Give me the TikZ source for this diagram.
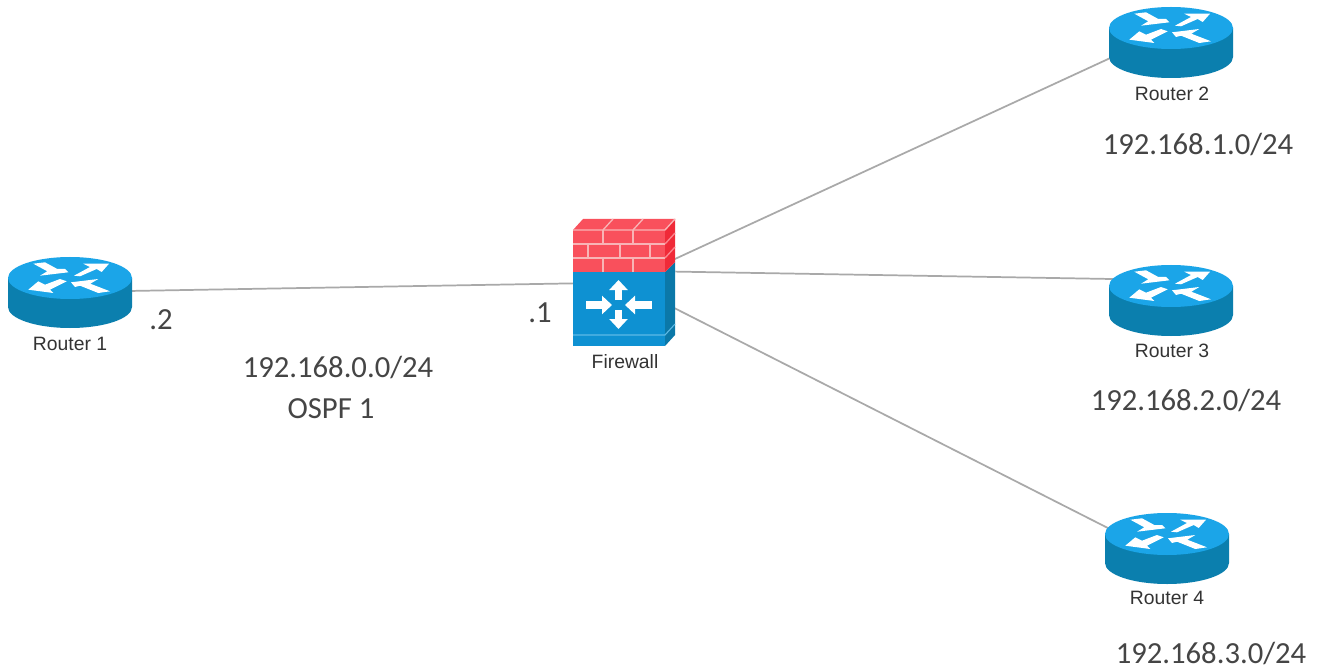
\documentclass[tikz,border=0pt]{standalone}
\usepackage{fontspec}
\setmainfont{Liberation Sans}
\newfontfamily\labfont{Carlito}
\usetikzlibrary{arrows.meta}
\definecolor{rtop}{HTML}{1BA5E8}
\definecolor{rside}{HTML}{0B7FAE}
\definecolor{fwblue}{HTML}{0E91D2}
\definecolor{fwside}{HTML}{0B78A8}
\definecolor{fwred}{HTML}{F9505C}
\definecolor{fwredside}{HTML}{F02A38}
\definecolor{fwbrick}{HTML}{F8B4B6}
\definecolor{fwband}{HTML}{5DB9E6}
\definecolor{wire}{HTML}{A9A9A9}
\definecolor{labtext}{HTML}{454545}
\tikzset{
  devbox/.style={inner sep=0pt,minimum width=93pt,minimum height=53pt},
  fwbox/.style={inner sep=0pt,minimum width=76.5pt,minimum height=95.25pt},
  wireline/.style={draw=wire,line width=1.3pt},
  devlabel/.style={font=\fontsize{14.5}{17}\selectfont,text=black!80,inner sep=0pt},
  netlabel/.style={font=\labfont\fontsize{23}{27}\selectfont,text=labtext,inner sep=0pt},
  farrow/.style={draw=white,line width=5.4pt,-{Triangle[length=7.5pt,width=13.5pt,fill=white]}},
  brick/.style={draw=fwbrick,line width=1pt}
}
\newcommand{\routerglyph}[2]{%
  \begin{scope}[shift={(#1,#2)}]
    \fill[rside] (-62,0) -- (-62,29) arc[x radius=62,y radius=21,start angle=180,end angle=0] -- (62,0) -- cycle;
    \fill[rtop] (0,0) ellipse[x radius=62,y radius=21];
    \fill[white] (4,-2.3) -- (20,-11) -- (13.3,-14.3) -- (39,-14.3) -- (31.7,-6) -- (26.7,-9) -- (10,-1.7) -- cycle;
    \fill[white] (-36.7,-14.3) -- (-25,-15.7) -- (-12.7,-9) -- (-5,-9) -- (-1.7,-5.7) -- (-30,-2.3) -- (-22.7,-6.7) -- cycle;
    \fill[white] (-41.7,11.7) -- (-31.7,3.3) -- (-25,6.7) -- (-10,1) -- (-3.3,3.3) -- (-20,11.7) -- (-16.7,15) -- cycle;
    \fill[white] (1,4.3) -- (28.3,1) -- (20.3,5.7) -- (40,13.3) -- (28.3,15) -- (10,7.7) -- (5,9) -- cycle;
  \end{scope}}
\begin{document}
\begin{tikzpicture}[x=0.75pt,y=-0.75pt]
\useasboundingbox (0,0) rectangle (1320,670);
\fill[white] (0,0) rectangle (1320,670);
% device anchors
\node[devbox] (r1) at (70,292) {};
\node[devbox] (r2) at (1171,30) {};
\node[devbox] (r3) at (1171,280) {};
\node[devbox] (r4) at (1167,548) {};
\node[fwbox] (fw) at (624,282.5) {};
\coordinate (r4in) at (1167,558);
% connectors
\draw[wireline] (r1.center) -- (fw.center);
\draw[wireline] (fw.center) -- (r2.center);
\draw[wireline] (fw.12) -- (r3.center);
\draw[wireline] (fw.center) -- (r4in);
% routers
\routerglyph{70}{278}
\routerglyph{1171}{28}
\routerglyph{1171}{286}
\routerglyph{1167}{534}
% firewall
\fill[fwblue] (573,272) rectangle (665,346);
\fill[fwside] (665,272) -- (675,262) -- (675,335) -- (665,346) -- cycle;
\draw[fwband,line width=0.8pt] (573,335) -- (665,335) -- (675,324);
\fill[fwred] (573,230) rectangle (665,272);
\fill[fwred] (573,230) -- (583,219) -- (675,219) -- (665,230) -- cycle;
\fill[fwredside] (665,230) -- (675,219) -- (675,262) -- (665,272) -- cycle;
\draw[brick] (573,230) -- (665,230) -- (675,219);
\draw[brick] (573,244) -- (665,244) (573,258) -- (665,258);
\draw[brick] (603,230) -- (603,244) (633,230) -- (633,244);
\draw[brick] (588,244) -- (588,258) (620,244) -- (620,258) (650,244) -- (650,258);
\draw[brick] (603,258) -- (603,272) (633,258) -- (633,272);
\draw[brick] (603,230) -- (613,219) (633,230) -- (643,219);
\draw[brick,draw=fwred!70!white] (665,244) -- (675,233) (665,258) -- (675,247);
\draw[farrow] (618.5,300) -- (618.5,280);
\draw[farrow] (618.5,310) -- (618.5,329);
\draw[farrow] (586,305) -- (612,305);
\draw[farrow] (652,305) -- (625,305);
% device labels
\node[devlabel] (lr1) at (70,344) {Router 1};
\node[devlabel] (lr2) at (1172,94) {Router 2};
\node[devlabel] (lr3) at (1172,351) {Router 3};
\node[devlabel] (lr4) at (1167,598) {Router 4};
\node[devlabel] (lfw) at (625,362) {Firewall};
% network labels
\node[netlabel] (n1) at (1198,145) {192.168.1.0/24};
\node[netlabel] (n2) at (1186,401) {192.168.2.0/24};
\node[netlabel] (n3) at (1211,653) {192.168.3.0/24};
\node[netlabel] (n0) at (338,368) {192.168.0.0/24};
\node[netlabel] (os) at (331,409) {OSPF 1};
\node[netlabel] (d2) at (161,320) {.2};
\node[netlabel] (d1) at (540,313) {.1};
\end{tikzpicture}
\end{document}
